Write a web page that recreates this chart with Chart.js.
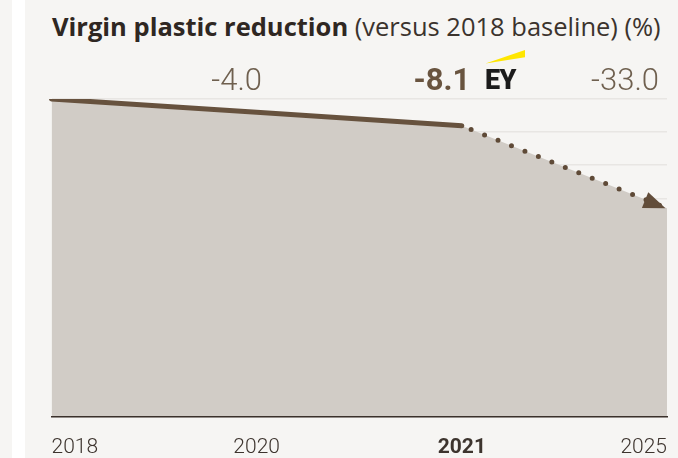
<!DOCTYPE html>
<html>
<head>
<meta charset="utf-8">
<script src="https://cdn.jsdelivr.net/npm/chart.js@4.4.1/dist/chart.umd.min.js"></script>
<style>
  html, body { margin: 0; padding: 0; background: #f6f5f3; }
  #wrap { position: relative; width: 678px; height: 458px; overflow: hidden; background: #f6f5f3; }
  #gap { position: absolute; left: 12px; top: 0; width: 13px; height: 458px; background: #ffffff; }
  #title { position: absolute; left: 52px; top: 11px; font-family: "Open Sans", sans-serif; font-size: 25.5px;
           line-height: 30px; color: #2f2722; white-space: nowrap; }
  #title b { font-weight: 700; }
  #title span { font-weight: 400; color: #3b332d; }
  #ey { position: absolute; left: 485px; top: 66.5px; font-family: Roboto, sans-serif; font-weight: 900;
        font-size: 27px; line-height: 27px; color: #1b1b1b; letter-spacing: -0.5px; }
  #beam { position: absolute; left: 0; top: 0; }
  canvas { position: absolute; left: 0; top: 0; }
</style>
</head>
<body>
<div id="wrap">
  <div id="gap"></div>
  <div id="title"><b>Virgin plastic reduction</b><span> (versus 2018 baseline) (%)</span></div>
  <canvas id="chart" width="685" height="482"></canvas>
  <svg id="beam" width="678" height="100"><polygon points="485.5,63.5 525,50 525,57.3" fill="#ffe600"/></svg>
  <div id="ey">EY</div>
</div>
<script>
// Years on the x axis and the reduction versus the 2018 baseline (%)
const years = ['2018', '2020', '2021', '2025'];
const reduction = [0, -4.0, -8.1, -33.0];
const highlightYear = '2021';
// Index from which the series is a target (dotted)
const targetFrom = 2;

const brown = '#67523e';
const fillGrey = '#d1ccc6';

// Value labels written above the plot for every year after the baseline
const valueLabels = {
  id: 'valueLabels',
  afterDraw(chart) {
    const { ctx, scales: { x }, chartArea } = chart;
    ctx.save();
    ctx.textBaseline = 'alphabetic';
    for (let i = 1; i < reduction.length; i++) {
      const bold = years[i] === highlightYear;
      ctx.font = (bold ? '700 ' : '300 ') + '31px Roboto, sans-serif';
      ctx.fillStyle = bold ? '#69543f' : '#6f604f';
      const px = x.getPixelForValue(i);
      if (i === reduction.length - 1) {
        ctx.textAlign = 'right';
        ctx.fillText(reduction[i].toFixed(1), chartArea.right - 8, 90);
      } else {
        ctx.textAlign = 'center';
        ctx.fillText(reduction[i].toFixed(1), px - 20, 90);
      }
    }
    ctx.restore();
  }
};

// Arrowhead at the end of the target line
const arrowHead = {
  id: 'arrowHead',
  afterDatasetsDraw(chart) {
    const pts = chart.getDatasetMeta(1).data;
    const a = pts[pts.length - 2], b = pts[pts.length - 1];
    const ang = Math.atan2(b.y - a.y, b.x - a.x);
    const ctx = chart.ctx;
    ctx.save();
    ctx.translate(b.x - 1.5, b.y);
    ctx.rotate(ang);
    ctx.beginPath();
    ctx.moveTo(0, 0);
    ctx.lineTo(-22, -8.5);
    ctx.lineTo(-22, 8.5);
    ctx.closePath();
    ctx.fillStyle = '#624d3a';
    ctx.fill();
    ctx.restore();
  }
};

new Chart(document.getElementById('chart'), {
  type: 'line',
  data: {
    labels: years,
    datasets: [{
      // shaded area under the series
      data: reduction,
      borderWidth: 0,
      borderColor: 'rgba(0,0,0,0)',
      backgroundColor: fillGrey,
      fill: 'start',
      tension: 0,
      pointRadius: 0,
      order: 2
    }, {
      // reported trend (solid) and target (dotted)
      data: reduction,
      borderColor: brown,
      borderWidth: 5,
      borderCapStyle: 'round',
      borderJoinStyle: 'round',
      fill: false,
      tension: 0,
      pointRadius: 0,
      pointHoverRadius: 0,
      order: 1,
      segment: {
        borderDash: c => c.p0DataIndex >= targetFrom ? [0, 14.5] : undefined,
        borderDashOffset: c => c.p0DataIndex >= targetFrom ? 4.5 : undefined,
        borderColor: c => c.p0DataIndex >= targetFrom ? '#5f4a37' : undefined
      }
    }]
  },
  options: {
    responsive: false,
    animation: false,
    events: [],
    layout: { padding: { left: 51.5, right: 12.3, top: 99, bottom: 4 } },
    plugins: { legend: { display: false }, tooltip: { enabled: false }, title: { display: false } },
    scales: {
      x: {
        grid: { display: false, drawTicks: false },
        border: { display: true, color: '#3a312b', width: 1.5, z: 1 },
        ticks: {
          align: 'inner',
          padding: 18,
          color: '#3d342e',
          maxRotation: 0,
          autoSkip: false,
          font: c => ({ family: 'Roboto, sans-serif', size: 21,
                        weight: years[c.index] === highlightYear ? '700' : '300' })
        }
      },
      y: {
        min: -96,
        max: 0,
        ticks: { display: false, stepSize: 10 },
        grid: { color: '#e8e6e3', lineWidth: 1.5, drawTicks: false },
        border: { display: false }
      }
    }
  },
  plugins: [valueLabels, arrowHead]
});
</script>
</body>
</html>
